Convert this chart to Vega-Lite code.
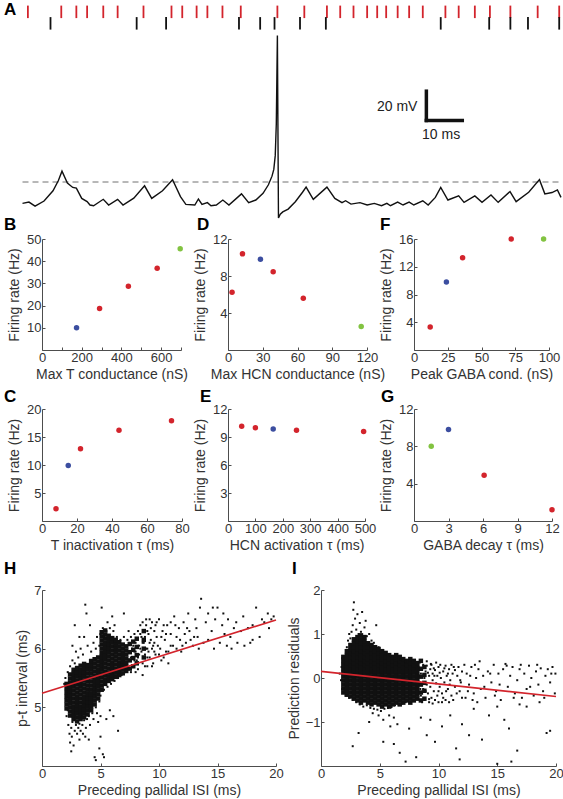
{
"$schema":"https://vega.github.io/schema/vega-lite/v6.json",
"padding":{"left":3,"top":0,"right":0,"bottom":0},
"bounds":"flush",
"align":"each",
"columns":5,
"spacing":{"row":11,"column":0},
"config":{
"font":"Liberation Sans",
"view":{"stroke":"transparent"},
"axis":{"domainColor":"#4d4d4d","tickColor":"#4d4d4d","labelColor":"#333333","titleColor":"#333333","labelFontSize":13,"titleFontSize":14,"titleFontWeight":"normal","grid":false,"tickSize":-3,"labelPadding":4,"titlePadding":3,"labelOverlap":false,"labelFlush":false,"labelBound":false,"labelFont":"Liberation Sans","titleFont":"Liberation Sans"},
"axisY":{"titlePadding":5},
"title":{"fontSize":17,"fontWeight":"bold","anchor":"start","frame":"group","offset":0,"baseline":"alphabetic","color":"#000000","font":"Liberation Sans"}
},
"concat":[
{
"width":93,"height":220,
"title":{"text":"A","dx":-38,"dy":17},
"resolve":{"scale":{"y":"independent"}},
"layer":[
{"data":{"values":[{"t":1.5,"train":"pallidal"},{"t":10.8,"train":"pallidal"},{"t":15.0,"train":"pallidal"},{"t":18.0,"train":"pallidal"},{"t":22.5,"train":"pallidal"},{"t":26.5,"train":"pallidal"},{"t":33.7,"train":"pallidal"},{"t":41.5,"train":"pallidal"},{"t":44.5,"train":"pallidal"},{"t":48.5,"train":"pallidal"},{"t":51.5,"train":"pallidal"},{"t":55.7,"train":"pallidal"},{"t":60.8,"train":"pallidal"},{"t":71.0,"train":"pallidal"},{"t":78.5,"train":"pallidal"},{"t":84.8,"train":"pallidal"},{"t":88.5,"train":"pallidal"},{"t":92.2,"train":"pallidal"},{"t":96.0,"train":"pallidal"},{"t":98.8,"train":"pallidal"},{"t":101.3,"train":"pallidal"},{"t":104.5,"train":"pallidal"},{"t":107.7,"train":"pallidal"},{"t":111.5,"train":"pallidal"},{"t":117.8,"train":"pallidal"},{"t":121.5,"train":"pallidal"},{"t":126.0,"train":"pallidal"},{"t":130.2,"train":"pallidal"},{"t":135.9,"train":"pallidal"},{"t":143.5,"train":"pallidal"},{"t":149.5,"train":"pallidal"}]},
"mark":{"type":"tick","orient":"vertical","thickness":1.8,"size":12.5,"color":"#d3242c","opacity":1},
"encoding":{"x":{"field":"t","type":"quantitative","scale":{"domain":[0,150],"range":[-19.5,519],"nice":false,"zero":false},"axis":null},
"y":{"field":"train","type":"nominal","scale":{"type":"point","domain":["pallidal","thalamic"],"range":[3.85,15.35],"padding":0},"axis":null}}},
{"data":{"values":[{"t":7.8,"train":"thalamic"},{"t":31.8,"train":"thalamic"},{"t":40.0,"train":"thalamic"},{"t":60.3,"train":"thalamic"},{"t":66.2,"train":"thalamic"},{"t":70.2,"train":"thalamic"},{"t":77.3,"train":"thalamic"},{"t":84.5,"train":"thalamic"},{"t":116.5,"train":"thalamic"},{"t":130.0,"train":"thalamic"},{"t":135.9,"train":"thalamic"},{"t":140.8,"train":"thalamic"},{"t":149.5,"train":"thalamic"}]},
"mark":{"type":"tick","orient":"vertical","thickness":1.8,"size":12.5,"color":"#111111","opacity":1},
"encoding":{"x":{"field":"t","type":"quantitative","scale":{"domain":[0,150],"range":[-19.5,519],"nice":false,"zero":false},"axis":null},
"y":{"field":"train","type":"nominal","scale":{"type":"point","domain":["pallidal","thalamic"],"range":[3.85,15.35],"padding":0},"axis":null}}},
{"data":{"values":[{"t0":0,"t1":150,"v":-50}]},
"mark":{"type":"rule","color":"#707070","strokeWidth":1,"strokeDash":[6,4]},
"encoding":{"x":{"field":"t0","type":"quantitative","scale":{"domain":[0,150],"range":[-19.5,519],"nice":false,"zero":false},"axis":null},"x2":{"field":"t1"},
"y":{"field":"v","type":"quantitative","scale":{"domain":[-81.4,68.8],"nice":false,"zero":false},"axis":null}}},
{"data":{"values":[{"t":0,"v":-64.6},{"t":1.8,"v":-63.7},{"t":3.5,"v":-66.5},{"t":6,"v":-63},{"t":8.5,"v":-56},{"t":10,"v":-49},{"t":11,"v":-42.6},{"t":12.5,"v":-50.7},{"t":14,"v":-53.7},{"t":15,"v":-54.2},{"t":16.5,"v":-61.2},{"t":18,"v":-63.4},{"t":18.8,"v":-65.7},{"t":19.8,"v":-66.2},{"t":22.5,"v":-61.8},{"t":24,"v":-65.7},{"t":26.5,"v":-61.8},{"t":28,"v":-65.7},{"t":31,"v":-61},{"t":34,"v":-52.6},{"t":36,"v":-61.2},{"t":39,"v":-56},{"t":41.8,"v":-48.4},{"t":44,"v":-60},{"t":45.5,"v":-65.3},{"t":48,"v":-65.7},{"t":49,"v":-61.6},{"t":50,"v":-65.3},{"t":51.5,"v":-64.1},{"t":52.5,"v":-66.2},{"t":54,"v":-65.7},{"t":55.8,"v":-62.3},{"t":57.5,"v":-65.7},{"t":61,"v":-58.1},{"t":63,"v":-64.1},{"t":65,"v":-62.3},{"t":67,"v":-57.7},{"t":68.5,"v":-51.9},{"t":69.5,"v":-46},{"t":70,"v":-41.4},{"t":70.4,"v":-32},{"t":70.7,"v":-10},{"t":70.85,"v":20},{"t":71,"v":50},{"t":71.3,"v":-74.6},{"t":71.8,"v":-72},{"t":72.5,"v":-70.4},{"t":74,"v":-68.5},{"t":76,"v":-63.5},{"t":78,"v":-57},{"t":79,"v":-53.5},{"t":81,"v":-61.8},{"t":84.8,"v":-53.5},{"t":87,"v":-61.2},{"t":89,"v":-64.1},{"t":90,"v":-62.8},{"t":91.5,"v":-65.1},{"t":94,"v":-64.1},{"t":96,"v":-65.7},{"t":98,"v":-64.6},{"t":100,"v":-66.2},{"t":101.5,"v":-64.6},{"t":102.5,"v":-66.2},{"t":104.5,"v":-63.7},{"t":106,"v":-65.7},{"t":107.7,"v":-63.7},{"t":109,"v":-65.7},{"t":111.5,"v":-62.8},{"t":113,"v":-65.7},{"t":115,"v":-60.5},{"t":116.5,"v":-53.7},{"t":118.5,"v":-62.3},{"t":121.5,"v":-59.5},{"t":123,"v":-63.9},{"t":126,"v":-59.5},{"t":128,"v":-63.9},{"t":130.5,"v":-58.8},{"t":132.5,"v":-63.9},{"t":135.8,"v":-56.5},{"t":137.5,"v":-63.4},{"t":141,"v":-57},{"t":144,"v":-48.4},{"t":145.5,"v":-58.1},{"t":147.5,"v":-57.2},{"t":149,"v":-55.4},{"t":150,"v":-60.5}]},
"mark":{"type":"line","color":"#111111","strokeWidth":1.4},
"encoding":{"x":{"field":"t","type":"quantitative","scale":{"domain":[0,150],"range":[-19.5,519],"nice":false,"zero":false},"axis":null},
"y":{"field":"v","type":"quantitative","scale":{"domain":[-81.4,68.8],"nice":false,"zero":false},"axis":null}}},
{"data":{"values":[{"t":112.5,"t2":112.5,"v":-8,"v2":12},{"t":112.5,"t2":122.5,"v":-8,"v2":-8}]},
"mark":{"type":"rule","color":"#111111","strokeWidth":3.5,"strokeCap":"square"},
"encoding":{"x":{"field":"t","type":"quantitative","scale":{"domain":[0,150],"range":[-19.5,519],"nice":false,"zero":false},"axis":null},"x2":{"field":"t2"},
"y":{"field":"v","type":"quantitative","scale":{"domain":[-81.4,68.8],"nice":false,"zero":false},"axis":null},"y2":{"field":"v2"}}},
{"data":{"values":[{"t":110,"v":1.2,"label":"20 mV"}]},
"mark":{"type":"text","align":"right","baseline":"middle","fontSize":14,"font":"Liberation Sans","color":"#222222"},
"encoding":{"x":{"field":"t","type":"quantitative","scale":{"domain":[0,150],"range":[-19.5,519],"nice":false,"zero":false},"axis":null},
"y":{"field":"v","type":"quantitative","scale":{"domain":[-81.4,68.8],"nice":false,"zero":false},"axis":null},"text":{"field":"label"}}},
{"data":{"values":[{"t":116.6,"v":-17.7,"label":"10 ms"}]},
"mark":{"type":"text","align":"center","baseline":"middle","fontSize":14,"font":"Liberation Sans","color":"#222222"},
"encoding":{"x":{"field":"t","type":"quantitative","scale":{"domain":[0,150],"range":[-19.5,519],"nice":false,"zero":false},"axis":null},
"y":{"field":"v","type":"quantitative","scale":{"domain":[-81.4,68.8],"nice":false,"zero":false},"axis":null},"text":{"field":"label"}}}
]
},
{"width":93,"height":220,"data":{"values":[]},"mark":{"type":"point"}},
{"width":93,"height":220,"data":{"values":[]},"mark":{"type":"point"}},
{"width":93,"height":220,"data":{"values":[]},"mark":{"type":"point"}},
{"width":93,"height":220,"data":{"values":[]},"mark":{"type":"point"}},
{"width":93,"height":111,"title":{"text":"B","dx":-38,"dy":5},
"data":{"values":[{"param":174,"rate":10,"set":"default"},{"param":290,"rate":18.7,"set":"varied"},{"param":435,"rate":28.7,"set":"varied"},{"param":580,"rate":36.8,"set":"varied"},{"param":696,"rate":45.6,"set":"extreme"}]},
"mark":{"type":"circle","size":30,"opacity":1},
"encoding":{"x":{"field":"param","type":"quantitative","scale":{"domain":[0,700],"nice":false,"range":[0,139]},"axis":{"title":"Max T conductance (nS)","values":[0,100,200,300,400,500,600,700],"labelExpr":"datum.value % 200 == 0 && datum.value < 700 ? datum.label : ''"}},
"y":{"field":"rate","type":"quantitative","scale":{"domain":[0,50],"nice":false},"axis":{"title":"Firing rate (Hz)","values":[10,20,30,40,50]}},
"color":{"field":"set","type":"nominal","scale":{"domain":["varied","default","extreme"],"range":["#d3242c","#3c4ea0","#82c341"]},"legend":null}}},
{"width":93,"height":111,"data":{"values":[]},"mark":{"type":"point"}},
{"width":93,"height":111,"title":{"text":"D","dx":-31,"dy":5},
"data":{"values":[{"param":3.5,"rate":6.25,"set":"varied"},{"param":12.5,"rate":10.4,"set":"varied"},{"param":28,"rate":9.8,"set":"default"},{"param":39,"rate":8.45,"set":"varied"},{"param":65,"rate":5.6,"set":"varied"},{"param":115,"rate":2.55,"set":"extreme"}]},
"mark":{"type":"circle","size":30,"opacity":1},
"encoding":{"x":{"field":"param","type":"quantitative","scale":{"domain":[0,120],"nice":false,"range":[0,139]},"axis":{"title":"Max HCN conductance (nS)","values":[0,30,60,90,120]}},
"y":{"field":"rate","type":"quantitative","scale":{"domain":[0,12],"nice":false},"axis":{"title":"Firing rate (Hz)","values":[4,8,12]}},
"color":{"field":"set","type":"nominal","scale":{"domain":["varied","default","extreme"],"range":["#d3242c","#3c4ea0","#82c341"]},"legend":null}}},
{"width":93,"height":111,"data":{"values":[]},"mark":{"type":"point"}},
{"width":93,"height":111,"title":{"text":"F","dx":-34,"dy":5},
"data":{"values":[{"param":12,"rate":3.3,"set":"varied"},{"param":24,"rate":9.8,"set":"default"},{"param":36,"rate":13.3,"set":"varied"},{"param":72,"rate":16,"set":"varied"},{"param":96,"rate":16,"set":"extreme"}]},
"mark":{"type":"circle","size":30,"opacity":1},
"encoding":{"x":{"field":"param","type":"quantitative","scale":{"domain":[0,100],"nice":false,"range":[0,135]},"axis":{"title":"Peak GABA cond. (nS)","values":[0,25,50,75,100]}},
"y":{"field":"rate","type":"quantitative","scale":{"domain":[0,16],"nice":false},"axis":{"title":"Firing rate (Hz)","values":[4,8,12,16]}},
"color":{"field":"set","type":"nominal","scale":{"domain":["varied","default","extreme"],"range":["#d3242c","#3c4ea0","#82c341"]},"legend":null}}},
{"width":93,"height":37,"data":{"values":[]},"mark":{"type":"point"}},
{"width":93,"height":37,"data":{"values":[]},"mark":{"type":"point"}},
{"width":93,"height":37,"data":{"values":[]},"mark":{"type":"point"}},
{"width":93,"height":37,"data":{"values":[]},"mark":{"type":"point"}},
{"width":93,"height":37,"data":{"values":[]},"mark":{"type":"point"}},
{"width":93,"height":112,"title":{"text":"C","dx":-38,"dy":7},
"data":{"values":[{"param":8,"rate":2.2,"set":"varied"},{"param":15,"rate":9.9,"set":"default"},{"param":22,"rate":12.9,"set":"varied"},{"param":44,"rate":16.2,"set":"varied"},{"param":74,"rate":17.9,"set":"varied"}]},
"mark":{"type":"circle","size":30,"opacity":1},
"encoding":{"x":{"field":"param","type":"quantitative","scale":{"domain":[0,80],"nice":false,"range":[0,140]},"axis":{"title":"T inactivation τ (ms)","values":[0,20,40,60,80]}},
"y":{"field":"rate","type":"quantitative","scale":{"domain":[0,20],"nice":false},"axis":{"title":"Firing rate (Hz)","values":[5,10,15,20]}},
"color":{"field":"set","type":"nominal","scale":{"domain":["varied","default","extreme"],"range":["#d3242c","#3c4ea0","#82c341"]},"legend":null}}},
{"width":93,"height":112,"data":{"values":[]},"mark":{"type":"point"}},
{"width":93,"height":112,"title":{"text":"E","dx":-28,"dy":7},
"data":{"values":[{"param":50,"rate":10.15,"set":"varied"},{"param":100,"rate":10.0,"set":"varied"},{"param":165,"rate":9.85,"set":"default"},{"param":250,"rate":9.72,"set":"varied"},{"param":495,"rate":9.6,"set":"varied"}]},
"mark":{"type":"circle","size":30,"opacity":1},
"encoding":{"x":{"field":"param","type":"quantitative","scale":{"domain":[0,500],"nice":false,"range":[0,137]},"axis":{"title":"HCN activation τ (ms)","values":[0,100,200,300,400,500]}},
"y":{"field":"rate","type":"quantitative","scale":{"domain":[0,12],"nice":false},"axis":{"title":"Firing rate (Hz)","values":[3,6,9,12]}},
"color":{"field":"set","type":"nominal","scale":{"domain":["varied","default","extreme"],"range":["#d3242c","#3c4ea0","#82c341"]},"legend":null}}},
{"width":93,"height":112,"data":{"values":[]},"mark":{"type":"point"}},
{"width":93,"height":112,"title":{"text":"G","dx":-33,"dy":7},
"data":{"values":[{"param":1.5,"rate":8.0,"set":"extreme"},{"param":3,"rate":9.8,"set":"default"},{"param":6.1,"rate":4.9,"set":"varied"},{"param":12,"rate":1.2,"set":"varied"}]},
"mark":{"type":"circle","size":30,"opacity":1},
"encoding":{"x":{"field":"param","type":"quantitative","scale":{"domain":[0,12],"nice":false,"range":[0,138]},"axis":{"title":"GABA decay τ (ms)","values":[0,3,6,9,12]}},
"y":{"field":"rate","type":"quantitative","scale":{"domain":[0,12],"nice":false},"axis":{"title":"Firing rate (Hz)","values":[4,8,12]}},
"color":{"field":"set","type":"nominal","scale":{"domain":["varied","default","extreme"],"range":["#d3242c","#3c4ea0","#82c341"]},"legend":null}}},
{"width":93,"height":47,"data":{"values":[]},"mark":{"type":"point"}},
{"width":93,"height":47,"data":{"values":[]},"mark":{"type":"point"}},
{"width":93,"height":47,"data":{"values":[]},"mark":{"type":"point"}},
{"width":93,"height":47,"data":{"values":[]},"mark":{"type":"point"}},
{"width":93,"height":47,"data":{"values":[]},"mark":{"type":"point"}},
{"width":93,"height":176,"title":{"text":"H","dx":-38,"dy":-2},
"encoding":{"x":{"field":"x","type":"quantitative","scale":{"domain":[0,20],"nice":false,"range":[0,234]},"axis":{"title":"Preceding pallidal ISI (ms)","values":[0,5,10,15,20]}},
"y":{"field":"y","type":"quantitative","scale":{"domain":[4,7],"nice":false,"zero":false},"axis":{"title":"p-t interval (ms)","values":[5,6,7],"titlePadding":4}}},
"layer":[
{"data":{"values":[
{"x":2.1,"y":4.98},{"x":2.1,"y":5.05},{"x":2.1,"y":5.12},{"x":2.1,"y":5.19},{"x":2.1,"y":5.26},{"x":2.1,"y":5.33},{"x":2.1,"y":5.40},
{"x":2.4,"y":4.86},{"x":2.4,"y":4.93},{"x":2.4,"y":5.00},{"x":2.4,"y":5.07},{"x":2.4,"y":5.14},{"x":2.4,"y":5.21},{"x":2.4,"y":5.28},{"x":2.4,"y":5.35},{"x":2.4,"y":5.42},{"x":2.4,"y":5.49},{"x":2.4,"y":5.56},
{"x":2.7,"y":4.80},{"x":2.7,"y":4.87},{"x":2.7,"y":4.94},{"x":2.7,"y":5.01},{"x":2.7,"y":5.08},{"x":2.7,"y":5.15},{"x":2.7,"y":5.22},{"x":2.7,"y":5.29},{"x":2.7,"y":5.36},{"x":2.7,"y":5.43},{"x":2.7,"y":5.50},{"x":2.7,"y":5.57},{"x":2.7,"y":5.64},
{"x":3.0,"y":4.76},{"x":3.0,"y":4.83},{"x":3.0,"y":4.90},{"x":3.0,"y":4.97},{"x":3.0,"y":5.04},{"x":3.0,"y":5.11},{"x":3.0,"y":5.18},{"x":3.0,"y":5.25},{"x":3.0,"y":5.32},{"x":3.0,"y":5.39},{"x":3.0,"y":5.46},{"x":3.0,"y":5.53},{"x":3.0,"y":5.60},{"x":3.0,"y":5.67},
{"x":3.3,"y":4.80},{"x":3.3,"y":4.87},{"x":3.3,"y":4.94},{"x":3.3,"y":5.01},{"x":3.3,"y":5.08},{"x":3.3,"y":5.15},{"x":3.3,"y":5.22},{"x":3.3,"y":5.29},{"x":3.3,"y":5.36},{"x":3.3,"y":5.43},{"x":3.3,"y":5.50},{"x":3.3,"y":5.57},{"x":3.3,"y":5.64},{"x":3.3,"y":5.71},
{"x":3.6,"y":4.83},{"x":3.6,"y":4.90},{"x":3.6,"y":4.97},{"x":3.6,"y":5.04},{"x":3.6,"y":5.11},{"x":3.6,"y":5.18},{"x":3.6,"y":5.25},{"x":3.6,"y":5.32},{"x":3.6,"y":5.39},{"x":3.6,"y":5.46},{"x":3.6,"y":5.53},{"x":3.6,"y":5.60},{"x":3.6,"y":5.67},{"x":3.6,"y":5.74},
{"x":3.9,"y":4.88},{"x":3.9,"y":4.95},{"x":3.9,"y":5.02},{"x":3.9,"y":5.09},{"x":3.9,"y":5.16},{"x":3.9,"y":5.23},{"x":3.9,"y":5.30},{"x":3.9,"y":5.37},{"x":3.9,"y":5.44},{"x":3.9,"y":5.51},{"x":3.9,"y":5.58},{"x":3.9,"y":5.65},{"x":3.9,"y":5.72},
{"x":4.2,"y":4.95},{"x":4.2,"y":5.02},{"x":4.2,"y":5.09},{"x":4.2,"y":5.16},{"x":4.2,"y":5.23},{"x":4.2,"y":5.30},{"x":4.2,"y":5.37},{"x":4.2,"y":5.44},{"x":4.2,"y":5.51},{"x":4.2,"y":5.58},{"x":4.2,"y":5.65},{"x":4.2,"y":5.72},{"x":4.2,"y":5.79},
{"x":4.5,"y":5.05},{"x":4.5,"y":5.12},{"x":4.5,"y":5.19},{"x":4.5,"y":5.26},{"x":4.5,"y":5.33},{"x":4.5,"y":5.40},{"x":4.5,"y":5.47},{"x":4.5,"y":5.54},{"x":4.5,"y":5.61},{"x":4.5,"y":5.68},{"x":4.5,"y":5.75},{"x":4.5,"y":5.82},
{"x":4.8,"y":5.15},{"x":4.8,"y":5.22},{"x":4.8,"y":5.29},{"x":4.8,"y":5.36},{"x":4.8,"y":5.43},{"x":4.8,"y":5.50},{"x":4.8,"y":5.57},{"x":4.8,"y":5.64},{"x":4.8,"y":5.71},{"x":4.8,"y":5.78},{"x":4.8,"y":5.85},
{"x":5.1,"y":5.30},{"x":5.1,"y":5.37},{"x":5.1,"y":5.44},{"x":5.1,"y":5.51},{"x":5.1,"y":5.58},{"x":5.1,"y":5.65},{"x":5.1,"y":5.72},{"x":5.1,"y":5.79},{"x":5.1,"y":5.86},{"x":5.1,"y":5.93},{"x":5.1,"y":6.00},{"x":5.1,"y":6.07},{"x":5.1,"y":6.14},{"x":5.1,"y":6.21},{"x":5.1,"y":6.28},
{"x":5.4,"y":5.40},{"x":5.4,"y":5.47},{"x":5.4,"y":5.54},{"x":5.4,"y":5.61},{"x":5.4,"y":5.68},{"x":5.4,"y":5.75},{"x":5.4,"y":5.82},{"x":5.4,"y":5.89},{"x":5.4,"y":5.96},{"x":5.4,"y":6.03},{"x":5.4,"y":6.10},{"x":5.4,"y":6.17},{"x":5.4,"y":6.24},{"x":5.4,"y":6.31},
{"x":5.7,"y":5.45},{"x":5.7,"y":5.52},{"x":5.7,"y":5.59},{"x":5.7,"y":5.66},{"x":5.7,"y":5.73},{"x":5.7,"y":5.80},{"x":5.7,"y":5.87},{"x":5.7,"y":5.94},{"x":5.7,"y":6.01},{"x":5.7,"y":6.08},{"x":5.7,"y":6.15},{"x":5.7,"y":6.22},
{"x":6.0,"y":5.48},{"x":6.0,"y":5.55},{"x":6.0,"y":5.62},{"x":6.0,"y":5.69},{"x":6.0,"y":5.76},{"x":6.0,"y":5.83},{"x":6.0,"y":5.90},{"x":6.0,"y":5.97},{"x":6.0,"y":6.04},{"x":6.0,"y":6.11},{"x":6.0,"y":6.18},
{"x":6.3,"y":5.52},{"x":6.3,"y":5.59},{"x":6.3,"y":5.66},{"x":6.3,"y":5.73},{"x":6.3,"y":5.80},{"x":6.3,"y":5.87},{"x":6.3,"y":5.94},{"x":6.3,"y":6.01},{"x":6.3,"y":6.08},{"x":6.3,"y":6.15},
{"x":6.6,"y":5.55},{"x":6.6,"y":5.62},{"x":6.6,"y":5.69},{"x":6.6,"y":5.76},{"x":6.6,"y":5.83},{"x":6.6,"y":5.90},{"x":6.6,"y":5.97},{"x":6.6,"y":6.04},{"x":6.6,"y":6.11},
{"x":6.9,"y":5.58},{"x":6.9,"y":5.65},{"x":6.9,"y":5.72},{"x":6.9,"y":5.79},{"x":6.9,"y":5.86},{"x":6.9,"y":5.93},{"x":6.9,"y":6.00},{"x":6.9,"y":6.07},
{"x":7.2,"y":5.62},{"x":7.2,"y":5.69},{"x":7.2,"y":5.76},{"x":7.2,"y":5.83},{"x":7.2,"y":5.90},{"x":7.2,"y":5.97},{"x":7.2,"y":6.04},
{"x":7.5,"y":5.66},{"x":7.5,"y":5.80},{"x":7.5,"y":5.94},{"x":7.5,"y":6.08},
{"x":7.8,"y":5.70},{"x":7.8,"y":5.84},{"x":7.8,"y":5.98},{"x":7.8,"y":6.12},
{"x":8.1,"y":5.75},{"x":8.1,"y":5.89},{"x":8.1,"y":6.03},{"x":8.1,"y":6.17},
{"x":8.7,"y":5.85},{"x":8.7,"y":6.00},{"x":8.7,"y":6.15},{"x":8.7,"y":6.30}
]},"mark":{"type":"square","size":20,"color":"#111111","opacity":1}},
{"data":{"values":[
{"x":2.2,"y":4.95},{"x":2.3,"y":5.3},{"x":2.25,"y":4.7},{"x":2.35,"y":4.55},{"x":2.5,"y":4.65},{"x":2.6,"y":4.75},{"x":2.55,"y":4.5},{"x":2.8,"y":4.6},{"x":2.9,"y":4.7},{"x":3.0,"y":4.55},{"x":3.1,"y":4.65},{"x":3.2,"y":4.72},{"x":3.3,"y":4.6},{"x":3.45,"y":4.7},{"x":3.5,"y":4.55},{"x":3.6,"y":4.78},{"x":3.75,"y":4.65},{"x":3.85,"y":4.8},{"x":4.0,"y":4.85},{"x":4.1,"y":4.7},{"x":4.3,"y":4.9},{"x":4.4,"y":4.8},{"x":4.6,"y":5.0},{"x":4.7,"y":4.9},{"x":4.9,"y":5.1},{"x":2.05,"y":5.15},{"x":2.1,"y":4.85},{"x":2.4,"y":4.4},{"x":2.5,"y":4.25},{"x":2.7,"y":4.35},{"x":3.2,"y":4.45},{"x":3.7,"y":4.5},{"x":4.0,"y":4.45},{"x":4.5,"y":4.15},{"x":4.6,"y":4.1},{"x":4.9,"y":4.3},{"x":5.0,"y":4.5},{"x":5.2,"y":4.2},{"x":5.3,"y":4.15},{"x":4.8,"y":4.75},{"x":5.0,"y":4.85},
{"x":1.9,"y":5.4},{"x":2.0,"y":5.5},{"x":2.2,"y":5.6},{"x":2.4,"y":5.7},{"x":2.6,"y":5.8},{"x":2.8,"y":5.75},{"x":2.9,"y":5.95},{"x":3.1,"y":5.85},{"x":3.3,"y":6.0},{"x":3.5,"y":5.9},{"x":3.6,"y":6.2},{"x":3.7,"y":6.75},{"x":3.8,"y":6.6},{"x":3.9,"y":6.05},{"x":4.1,"y":6.4},{"x":4.2,"y":5.95},{"x":4.4,"y":6.1},{"x":4.6,"y":6.0},{"x":4.7,"y":6.2},{"x":4.9,"y":6.05},{"x":5.1,"y":6.7},{"x":5.0,"y":6.25},{"x":5.2,"y":6.35},{"x":5.3,"y":6.2},{"x":5.5,"y":6.3},{"x":5.6,"y":6.45},{"x":5.8,"y":6.35},{"x":6.0,"y":6.55},{"x":6.1,"y":6.3},{"x":6.2,"y":6.4},
{"x":5.0,"y":5.2},{"x":5.3,"y":5.3},{"x":5.6,"y":5.35},{"x":5.9,"y":5.4},{"x":6.2,"y":5.45},{"x":6.5,"y":5.5},{"x":6.8,"y":5.55},{"x":7.1,"y":5.6},{"x":7.4,"y":5.65},{"x":6.4,"y":6.2},{"x":6.7,"y":6.15},{"x":7.0,"y":6.6},{"x":7.0,"y":6.2},{"x":7.3,"y":6.15},{"x":7.6,"y":6.2},
{"x":7.6,"y":5.85},{"x":7.7,"y":6.0},{"x":7.8,"y":6.05},{"x":7.8,"y":5.7},{"x":7.9,"y":5.8},{"x":7.9,"y":5.95},{"x":8.0,"y":6.1},{"x":8.0,"y":5.95},{"x":8.1,"y":6.15},{"x":8.1,"y":5.8},{"x":8.2,"y":5.85},{"x":8.2,"y":6.3},{"x":8.3,"y":6.05},{"x":8.3,"y":5.9},{"x":8.4,"y":6.25},{"x":8.4,"y":6.0},{"x":8.5,"y":5.95},{"x":8.5,"y":6.2},{"x":8.6,"y":6.1},{"x":8.6,"y":5.75},{"x":8.7,"y":5.85},{"x":8.7,"y":6.1},{"x":8.8,"y":6.2},{"x":8.8,"y":5.9},{"x":8.9,"y":6.0},{"x":8.9,"y":6.4},{"x":9.0,"y":6.3},{"x":9.0,"y":6.0},{"x":9.1,"y":5.95},{"x":9.1,"y":6.25},{"x":9.2,"y":6.1},{"x":9.2,"y":5.85},{"x":9.3,"y":6.35},{"x":9.3,"y":6.15},{"x":9.4,"y":6.0},{"x":9.4,"y":6.45},{"x":9.5,"y":6.05},{"x":9.6,"y":6.1},{"x":9.6,"y":6.3},{"x":9.7,"y":6.4},{"x":9.7,"y":5.9},{"x":9.8,"y":6.2},{"x":9.9,"y":6.05},
{"x":10.0,"y":6.5},{"x":10.1,"y":6.0},{"x":10.2,"y":6.2},{"x":10.3,"y":6.3},{"x":10.4,"y":5.85},{"x":10.5,"y":6.15},{"x":10.6,"y":6.25},{"x":10.7,"y":6.4},{"x":10.8,"y":5.95},{"x":11.0,"y":6.25},{"x":11.0,"y":6.05},{"x":11.2,"y":6.05},{"x":11.3,"y":6.55},{"x":11.4,"y":6.4},{"x":11.5,"y":6.2},{"x":11.7,"y":6.35},{"x":11.8,"y":6.15},{"x":11.9,"y":5.95},{"x":12.1,"y":6.45},{"x":12.2,"y":6.25},{"x":12.3,"y":6.1},{"x":12.5,"y":6.6},{"x":12.6,"y":6.3},{"x":12.7,"y":6.15},{"x":12.9,"y":6.05},{"x":13.1,"y":6.5},{"x":13.2,"y":6.35},{"x":13.3,"y":6.2},{"x":13.5,"y":6.7},{"x":13.6,"y":6.85},{"x":13.8,"y":6.1},{"x":14.0,"y":6.45},{"x":14.2,"y":6.6},{"x":14.2,"y":6.15},{"x":14.5,"y":6.3},{"x":14.7,"y":6.0},{"x":14.8,"y":6.5},{"x":15.0,"y":6.7},{"x":15.2,"y":6.1},{"x":15.4,"y":6.4},{"x":15.6,"y":6.25},{"x":15.8,"y":6.05},{"x":15.9,"y":6.5},{"x":16.1,"y":6.2},{"x":16.4,"y":6.35},{"x":16.6,"y":6.45},{"x":16.7,"y":6.1},{"x":17.0,"y":6.3},{"x":17.3,"y":6.05},{"x":17.6,"y":6.35},{"x":17.8,"y":6.1},{"x":18.0,"y":6.4},{"x":18.3,"y":6.7},{"x":18.6,"y":6.2},{"x":18.8,"y":6.5},{"x":19.0,"y":6.45},{"x":19.3,"y":6.6},{"x":19.6,"y":6.5},{"x":19.8,"y":6.55},
{"x":6.1,"y":4.85},{"x":5.5,"y":4.8},{"x":6.5,"y":4.6},{"x":5.8,"y":4.95},{"x":2.8,"y":6.4},{"x":3.2,"y":6.2},{"x":2.6,"y":6.05},{"x":8.0,"y":5.6},{"x":8.6,"y":5.55},{"x":9.0,"y":5.7},{"x":9.5,"y":5.75},{"x":10.2,"y":5.8},{"x":10.8,"y":5.75},
{"x":7.4,"y":6.3},{"x":7.6,"y":5.6},{"x":7.9,"y":6.25},{"x":8.2,"y":5.65},{"x":8.4,"y":6.4},{"x":8.6,"y":6.45},{"x":8.8,"y":5.7},{"x":8.9,"y":6.5},{"x":9.0,"y":5.85},{"x":9.2,"y":6.5},{"x":9.4,"y":5.7},{"x":9.6,"y":5.95},{"x":9.8,"y":6.45},{"x":10.0,"y":5.9},{"x":10.4,"y":6.4},{"x":10.6,"y":5.95},{"x":11.0,"y":6.45},{"x":11.5,"y":6.0},{"x":12.0,"y":6.05},{"x":12.4,"y":6.35},{"x":13.0,"y":6.2},{"x":13.4,"y":6.0},{"x":14.6,"y":6.7},{"x":15.5,"y":6.6},{"x":16.2,"y":6.0},{"x":17.2,"y":6.55},{"x":18.0,"y":6.15},{"x":19.4,"y":6.35}
]},"mark":{"type":"square","size":4,"color":"#111111","opacity":1}},
{"data":{"values":[{"x":0,"y":5.24},{"x":20,"y":6.49}]},"mark":{"type":"line","color":"#d3242c","strokeWidth":1.6}}
]},
{"width":93,"height":176,"data":{"values":[]},"mark":{"type":"point"}},
{"width":93,"height":176,"data":{"values":[]},"mark":{"type":"point"}},
{"width":93,"height":176,"title":{"text":"I","dx":-29,"dy":-2},
"encoding":{"x":{"field":"x","type":"quantitative","scale":{"domain":[0,20],"nice":false,"range":[0,235]},"axis":{"title":"Preceding pallidal ISI (ms)","values":[0,5,10,15,20]}},
"y":{"field":"y","type":"quantitative","scale":{"domain":[-2,2],"nice":false,"zero":false},"axis":{"title":"Prediction residuals","values":[-1,0,1,2],"titlePadding":4}}},
"layer":[
{"data":{"values":[
{"x":1.9,"y":-0.33},{"x":1.9,"y":-0.24},{"x":1.9,"y":-0.15},{"x":1.9,"y":-0.06},{"x":1.9,"y":0.03},{"x":1.9,"y":0.12},{"x":1.9,"y":0.21},{"x":1.9,"y":0.30},{"x":1.9,"y":0.39},{"x":1.9,"y":0.48},
{"x":2.2,"y":-0.38},{"x":2.2,"y":-0.29},{"x":2.2,"y":-0.20},{"x":2.2,"y":-0.11},{"x":2.2,"y":-0.02},{"x":2.2,"y":0.07},{"x":2.2,"y":0.16},{"x":2.2,"y":0.25},{"x":2.2,"y":0.34},{"x":2.2,"y":0.43},{"x":2.2,"y":0.52},{"x":2.2,"y":0.61},
{"x":2.5,"y":-0.42},{"x":2.5,"y":-0.33},{"x":2.5,"y":-0.24},{"x":2.5,"y":-0.15},{"x":2.5,"y":-0.06},{"x":2.5,"y":0.03},{"x":2.5,"y":0.12},{"x":2.5,"y":0.21},{"x":2.5,"y":0.30},{"x":2.5,"y":0.39},{"x":2.5,"y":0.48},{"x":2.5,"y":0.57},{"x":2.5,"y":0.66},{"x":2.5,"y":0.75},
{"x":2.8,"y":-0.47},{"x":2.8,"y":-0.38},{"x":2.8,"y":-0.29},{"x":2.8,"y":-0.20},{"x":2.8,"y":-0.11},{"x":2.8,"y":-0.02},{"x":2.8,"y":0.07},{"x":2.8,"y":0.16},{"x":2.8,"y":0.25},{"x":2.8,"y":0.34},{"x":2.8,"y":0.43},{"x":2.8,"y":0.52},{"x":2.8,"y":0.61},{"x":2.8,"y":0.70},{"x":2.8,"y":0.79},{"x":2.8,"y":0.88},
{"x":3.1,"y":-0.51},{"x":3.1,"y":-0.42},{"x":3.1,"y":-0.33},{"x":3.1,"y":-0.24},{"x":3.1,"y":-0.15},{"x":3.1,"y":-0.06},{"x":3.1,"y":0.03},{"x":3.1,"y":0.12},{"x":3.1,"y":0.21},{"x":3.1,"y":0.30},{"x":3.1,"y":0.39},{"x":3.1,"y":0.48},{"x":3.1,"y":0.57},{"x":3.1,"y":0.66},{"x":3.1,"y":0.75},{"x":3.1,"y":0.84},{"x":3.1,"y":0.93},
{"x":3.4,"y":-0.56},{"x":3.4,"y":-0.47},{"x":3.4,"y":-0.38},{"x":3.4,"y":-0.29},{"x":3.4,"y":-0.20},{"x":3.4,"y":-0.11},{"x":3.4,"y":-0.02},{"x":3.4,"y":0.07},{"x":3.4,"y":0.16},{"x":3.4,"y":0.25},{"x":3.4,"y":0.34},{"x":3.4,"y":0.43},{"x":3.4,"y":0.52},{"x":3.4,"y":0.61},{"x":3.4,"y":0.70},{"x":3.4,"y":0.79},{"x":3.4,"y":0.88},{"x":3.4,"y":0.97},
{"x":3.7,"y":-0.51},{"x":3.7,"y":-0.42},{"x":3.7,"y":-0.33},{"x":3.7,"y":-0.24},{"x":3.7,"y":-0.15},{"x":3.7,"y":-0.06},{"x":3.7,"y":0.03},{"x":3.7,"y":0.12},{"x":3.7,"y":0.21},{"x":3.7,"y":0.30},{"x":3.7,"y":0.39},{"x":3.7,"y":0.48},{"x":3.7,"y":0.57},{"x":3.7,"y":0.66},{"x":3.7,"y":0.75},{"x":3.7,"y":0.84},{"x":3.7,"y":0.93},
{"x":4.0,"y":-0.56},{"x":4.0,"y":-0.47},{"x":4.0,"y":-0.38},{"x":4.0,"y":-0.29},{"x":4.0,"y":-0.20},{"x":4.0,"y":-0.11},{"x":4.0,"y":-0.02},{"x":4.0,"y":0.07},{"x":4.0,"y":0.16},{"x":4.0,"y":0.25},{"x":4.0,"y":0.34},{"x":4.0,"y":0.43},{"x":4.0,"y":0.52},{"x":4.0,"y":0.61},{"x":4.0,"y":0.70},{"x":4.0,"y":0.79},
{"x":4.3,"y":-0.60},{"x":4.3,"y":-0.51},{"x":4.3,"y":-0.42},{"x":4.3,"y":-0.33},{"x":4.3,"y":-0.24},{"x":4.3,"y":-0.15},{"x":4.3,"y":-0.06},{"x":4.3,"y":0.03},{"x":4.3,"y":0.12},{"x":4.3,"y":0.21},{"x":4.3,"y":0.30},{"x":4.3,"y":0.39},{"x":4.3,"y":0.48},{"x":4.3,"y":0.57},{"x":4.3,"y":0.66},{"x":4.3,"y":0.75},
{"x":4.6,"y":-0.56},{"x":4.6,"y":-0.47},{"x":4.6,"y":-0.38},{"x":4.6,"y":-0.29},{"x":4.6,"y":-0.20},{"x":4.6,"y":-0.11},{"x":4.6,"y":-0.02},{"x":4.6,"y":0.07},{"x":4.6,"y":0.16},{"x":4.6,"y":0.25},{"x":4.6,"y":0.34},{"x":4.6,"y":0.43},{"x":4.6,"y":0.52},{"x":4.6,"y":0.61},{"x":4.6,"y":0.70},
{"x":4.9,"y":-0.60},{"x":4.9,"y":-0.51},{"x":4.9,"y":-0.42},{"x":4.9,"y":-0.33},{"x":4.9,"y":-0.24},{"x":4.9,"y":-0.15},{"x":4.9,"y":-0.06},{"x":4.9,"y":0.03},{"x":4.9,"y":0.12},{"x":4.9,"y":0.21},{"x":4.9,"y":0.30},{"x":4.9,"y":0.39},{"x":4.9,"y":0.48},{"x":4.9,"y":0.57},{"x":4.9,"y":0.66},
{"x":5.2,"y":-0.65},{"x":5.2,"y":-0.56},{"x":5.2,"y":-0.47},{"x":5.2,"y":-0.38},{"x":5.2,"y":-0.29},{"x":5.2,"y":-0.20},{"x":5.2,"y":-0.11},{"x":5.2,"y":-0.02},{"x":5.2,"y":0.07},{"x":5.2,"y":0.16},{"x":5.2,"y":0.25},{"x":5.2,"y":0.34},{"x":5.2,"y":0.43},{"x":5.2,"y":0.52},{"x":5.2,"y":0.61},
{"x":5.5,"y":-0.60},{"x":5.5,"y":-0.51},{"x":5.5,"y":-0.42},{"x":5.5,"y":-0.33},{"x":5.5,"y":-0.24},{"x":5.5,"y":-0.15},{"x":5.5,"y":-0.06},{"x":5.5,"y":0.03},{"x":5.5,"y":0.12},{"x":5.5,"y":0.21},{"x":5.5,"y":0.30},{"x":5.5,"y":0.39},{"x":5.5,"y":0.48},{"x":5.5,"y":0.57},
{"x":5.8,"y":-0.65},{"x":5.8,"y":-0.56},{"x":5.8,"y":-0.47},{"x":5.8,"y":-0.38},{"x":5.8,"y":-0.29},{"x":5.8,"y":-0.20},{"x":5.8,"y":-0.11},{"x":5.8,"y":-0.02},{"x":5.8,"y":0.07},{"x":5.8,"y":0.16},{"x":5.8,"y":0.25},{"x":5.8,"y":0.34},{"x":5.8,"y":0.43},{"x":5.8,"y":0.52},
{"x":6.1,"y":-0.60},{"x":6.1,"y":-0.51},{"x":6.1,"y":-0.42},{"x":6.1,"y":-0.33},{"x":6.1,"y":-0.24},{"x":6.1,"y":-0.15},{"x":6.1,"y":-0.06},{"x":6.1,"y":0.03},{"x":6.1,"y":0.12},{"x":6.1,"y":0.21},{"x":6.1,"y":0.30},{"x":6.1,"y":0.39},{"x":6.1,"y":0.48},
{"x":6.4,"y":-0.56},{"x":6.4,"y":-0.47},{"x":6.4,"y":-0.38},{"x":6.4,"y":-0.29},{"x":6.4,"y":-0.20},{"x":6.4,"y":-0.11},{"x":6.4,"y":-0.02},{"x":6.4,"y":0.07},{"x":6.4,"y":0.16},{"x":6.4,"y":0.25},{"x":6.4,"y":0.34},{"x":6.4,"y":0.43},{"x":6.4,"y":0.52},
{"x":6.7,"y":-0.60},{"x":6.7,"y":-0.51},{"x":6.7,"y":-0.42},{"x":6.7,"y":-0.33},{"x":6.7,"y":-0.24},{"x":6.7,"y":-0.15},{"x":6.7,"y":-0.06},{"x":6.7,"y":0.03},{"x":6.7,"y":0.12},{"x":6.7,"y":0.21},{"x":6.7,"y":0.30},{"x":6.7,"y":0.39},{"x":6.7,"y":0.48},
{"x":7.0,"y":-0.56},{"x":7.0,"y":-0.47},{"x":7.0,"y":-0.38},{"x":7.0,"y":-0.29},{"x":7.0,"y":-0.20},{"x":7.0,"y":-0.11},{"x":7.0,"y":-0.02},{"x":7.0,"y":0.07},{"x":7.0,"y":0.16},{"x":7.0,"y":0.25},{"x":7.0,"y":0.34},{"x":7.0,"y":0.43},
{"x":7.3,"y":-0.51},{"x":7.3,"y":-0.42},{"x":7.3,"y":-0.33},{"x":7.3,"y":-0.24},{"x":7.3,"y":-0.15},{"x":7.3,"y":-0.06},{"x":7.3,"y":0.03},{"x":7.3,"y":0.12},{"x":7.3,"y":0.21},{"x":7.3,"y":0.30},{"x":7.3,"y":0.39},
{"x":7.6,"y":-0.56},{"x":7.6,"y":-0.47},{"x":7.6,"y":-0.38},{"x":7.6,"y":-0.29},{"x":7.6,"y":-0.20},{"x":7.6,"y":-0.11},{"x":7.6,"y":-0.02},{"x":7.6,"y":0.07},{"x":7.6,"y":0.16},{"x":7.6,"y":0.25},{"x":7.6,"y":0.34},{"x":7.6,"y":0.43},
{"x":7.9,"y":-0.51},{"x":7.9,"y":-0.42},{"x":7.9,"y":-0.33},{"x":7.9,"y":-0.24},{"x":7.9,"y":-0.15},{"x":7.9,"y":-0.06},{"x":7.9,"y":0.03},{"x":7.9,"y":0.12},{"x":7.9,"y":0.21},{"x":7.9,"y":0.30},{"x":7.9,"y":0.39},
{"x":8.2,"y":-0.47},{"x":8.2,"y":-0.38},{"x":8.2,"y":-0.29},{"x":8.2,"y":-0.20},{"x":8.2,"y":-0.11},{"x":8.2,"y":-0.02},{"x":8.2,"y":0.07},{"x":8.2,"y":0.16},{"x":8.2,"y":0.25},{"x":8.2,"y":0.34},
{"x":8.5,"y":-0.51},{"x":8.5,"y":-0.33},{"x":8.5,"y":-0.15},{"x":8.5,"y":0.03},{"x":8.5,"y":0.21},{"x":8.5,"y":0.39},
{"x":8.8,"y":-0.47},{"x":8.8,"y":-0.29},{"x":8.8,"y":-0.11},{"x":8.8,"y":0.07},{"x":8.8,"y":0.25}
]},"mark":{"type":"square","size":20,"color":"#111111","opacity":1}},
{"data":{"values":[
{"x":2.5,"y":0.9},{"x":2.6,"y":1.05},{"x":2.7,"y":1.2},{"x":2.75,"y":1.55},{"x":2.8,"y":1.72},{"x":2.9,"y":1.35},{"x":3.0,"y":1.1},{"x":3.1,"y":1.45},{"x":3.2,"y":1.0},{"x":3.3,"y":1.25},{"x":3.4,"y":1.05},{"x":3.5,"y":1.5},{"x":3.6,"y":0.95},{"x":3.7,"y":1.15},{"x":3.8,"y":1.3},{"x":3.9,"y":0.95},{"x":4.1,"y":1.0},{"x":4.3,"y":0.85},{"x":4.5,"y":0.8},{"x":4.7,"y":1.2},{"x":2.2,"y":0.7},{"x":2.0,"y":0.5},{"x":1.8,"y":0.45},{"x":2.3,"y":0.85},{"x":2.4,"y":1.0},{"x":4.9,"y":0.7},{"x":5.2,"y":0.6},{"x":5.5,"y":0.55},{"x":5.9,"y":0.5},{"x":6.3,"y":0.45},{"x":6.8,"y":0.42},{"x":7.2,"y":0.38},
{"x":1.6,"y":0.1},{"x":1.7,"y":-0.05},{"x":1.75,"y":0.25},{"x":1.8,"y":-0.25},{"x":2.0,"y":-0.3},{"x":2.1,"y":-0.4},{"x":2.3,"y":-0.35},{"x":2.4,"y":-0.45},{"x":2.7,"y":-0.5},{"x":3.0,"y":-0.55},{"x":3.3,"y":-0.6},{"x":3.6,"y":-0.65},{"x":3.9,"y":-0.62},{"x":4.2,"y":-0.68},{"x":4.5,"y":-0.7},{"x":4.8,"y":-0.72},{"x":5.1,"y":-0.75},{"x":5.4,"y":-0.7},{"x":5.7,"y":-0.68},{"x":6.0,"y":-0.66},{"x":6.3,"y":-0.62},{"x":6.6,"y":-0.6},{"x":6.9,"y":-0.58},{"x":7.2,"y":-0.55},{"x":7.5,"y":-0.55},{"x":4.9,"y":-0.85},{"x":5.3,"y":-0.95},{"x":5.8,"y":-0.85},{"x":6.2,"y":-0.9},{"x":4.4,"y":-0.8},
{"x":8.3,"y":0.25},{"x":8.4,"y":-0.1},{"x":8.5,"y":0.1},{"x":8.5,"y":-0.4},{"x":8.6,"y":0.2},{"x":8.7,"y":-0.25},{"x":8.8,"y":0.0},{"x":8.8,"y":-0.5},{"x":8.9,"y":0.15},{"x":9.0,"y":-0.15},{"x":9.0,"y":0.28},{"x":9.1,"y":-0.35},{"x":9.2,"y":0.05},{"x":9.3,"y":-0.2},{"x":9.3,"y":0.2},{"x":9.4,"y":-0.45},{"x":9.5,"y":0.1},{"x":9.5,"y":-0.05},{"x":9.6,"y":-0.3},{"x":9.7,"y":0.18},{"x":9.8,"y":-0.12},{"x":9.9,"y":0.05},{"x":9.9,"y":-0.4},{"x":10.0,"y":0.25},{"x":10.1,"y":-0.2},{"x":10.2,"y":0.0},{"x":10.3,"y":-0.35},{"x":10.4,"y":0.15},{"x":10.5,"y":-0.1},{"x":10.6,"y":-0.5},{"x":10.7,"y":0.05},{"x":10.8,"y":-0.25},{"x":10.9,"y":0.2},{"x":11.0,"y":-0.05},{"x":11.1,"y":-0.4},{"x":11.2,"y":0.1},{"x":11.4,"y":-0.2},{"x":11.6,"y":0.05},{"x":11.8,"y":-0.3},{"x":12.0,"y":0.15},{"x":8.4,"y":0.35},{"x":8.6,"y":-0.55},{"x":9.2,"y":-0.55},{"x":10.0,"y":-0.55},{"x":8.3,"y":0.05},{"x":8.7,"y":0.3},{"x":9.1,"y":0.12},{"x":9.4,"y":0.3},{"x":9.7,"y":-0.5},{"x":10.4,"y":-0.45},{"x":10.9,"y":-0.55},{"x":11.3,"y":0.25},{"x":11.9,"y":-0.1},{"x":12.3,"y":-0.45},{"x":8.45,"y":-0.25},{"x":8.9,"y":-0.3},{"x":9.6,"y":0.22},{"x":10.1,"y":0.12},{"x":10.6,"y":0.28},
{"x":9.0,"y":0.38},{"x":9.2,"y":-0.48},{"x":9.35,"y":0.32},{"x":9.5,"y":-0.58},{"x":9.65,"y":0.05},{"x":9.8,"y":0.35},{"x":10.0,"y":-0.3},{"x":10.15,"y":0.3},{"x":10.3,"y":-0.55},{"x":10.5,"y":0.22},{"x":10.65,"y":-0.3},{"x":10.8,"y":0.1},{"x":10.95,"y":-0.15},{"x":11.1,"y":0.3},{"x":11.25,"y":-0.5},{"x":11.4,"y":0.18},{"x":11.55,"y":-0.35},{"x":11.7,"y":0.25},{"x":11.85,"y":-0.05},{"x":12.0,"y":-0.45},{"x":12.2,"y":0.3},{"x":12.5,"y":-0.3},{"x":12.7,"y":0.05},{"x":12.9,"y":-0.5},{"x":13.1,"y":0.3},{"x":13.5,"y":0.38},{"x":13.9,"y":-0.2},{"x":14.4,"y":0.1},{"x":14.8,"y":-0.4},{"x":15.2,"y":-0.15},{"x":15.8,"y":0.28},{"x":16.4,"y":-0.45},{"x":17.0,"y":0.3},{"x":17.8,"y":-0.2},{"x":18.4,"y":0.3},{"x":19.0,"y":-0.45},{"x":19.6,"y":0.1},
{"x":12.4,"y":0.1},{"x":12.6,"y":-0.15},{"x":12.8,"y":0.25},{"x":13.0,"y":-0.35},{"x":13.2,"y":0.0},{"x":13.4,"y":0.2},{"x":13.6,"y":-0.25},{"x":13.8,"y":0.05},{"x":14.0,"y":-0.45},{"x":14.2,"y":0.15},{"x":14.5,"y":-0.1},{"x":14.7,"y":0.3},{"x":14.9,"y":-0.3},{"x":15.1,"y":0.1},{"x":15.3,"y":-0.5},{"x":15.5,"y":0.2},{"x":15.7,"y":0.32},{"x":15.9,"y":-0.2},{"x":16.1,"y":0.05},{"x":16.3,"y":0.25},{"x":16.5,"y":-0.35},{"x":16.7,"y":-0.05},{"x":16.9,"y":0.2},{"x":17.1,"y":-0.45},{"x":17.3,"y":0.1},{"x":17.5,"y":-0.25},{"x":17.7,"y":0.28},{"x":17.9,"y":0.0},{"x":18.1,"y":-0.4},{"x":18.3,"y":0.15},{"x":18.5,"y":-0.15},{"x":18.7,"y":0.22},{"x":18.9,"y":-0.3},{"x":19.1,"y":0.05},{"x":19.3,"y":0.2},{"x":19.5,"y":-0.1},{"x":19.7,"y":0.25},{"x":19.9,"y":-0.35},{"x":19.95,"y":0.1},{"x":13.3,"y":-0.55},{"x":16.9,"y":-0.6},{"x":18.6,"y":-0.55},{"x":15.0,"y":-0.65},{"x":13.0,"y":-0.7},{"x":17.5,"y":-0.65},{"x":11.0,"y":-0.85},{"x":8.5,"y":-0.9},
{"x":2.7,"y":-1.55},{"x":3.2,"y":-1.25},{"x":4.1,"y":-1.0},{"x":5.3,"y":-1.45},{"x":5.9,"y":-1.1},{"x":6.2,"y":-1.5},{"x":6.5,"y":-1.05},{"x":6.7,"y":-1.7},{"x":7.2,"y":-1.9},{"x":8.1,"y":-1.8},{"x":9.0,"y":-1.3},{"x":9.7,"y":-1.45},{"x":10.3,"y":-1.1},{"x":11.5,"y":-1.6},{"x":11.8,"y":-1.85},{"x":12.6,"y":-1.3},{"x":13.7,"y":-1.4},{"x":15.0,"y":-1.95},{"x":15.6,"y":-0.95},{"x":16.0,"y":-1.15},{"x":16.7,"y":-1.65},{"x":16.2,"y":-1.9},{"x":19.2,"y":-1.25},{"x":19.5,"y":-1.2},{"x":7.5,"y":-1.15},{"x":9.3,"y":-0.95},{"x":12.0,"y":-1.05},{"x":14.3,"y":-0.85}
]},"mark":{"type":"square","size":4,"color":"#111111","opacity":1}},
{"data":{"values":[{"x":0,"y":0.15},{"x":20,"y":-0.42}]},"mark":{"type":"line","color":"#d3242c","strokeWidth":1.6}}
]},
{"width":93,"height":176,"data":{"values":[]},"mark":{"type":"point"}}
]
}
